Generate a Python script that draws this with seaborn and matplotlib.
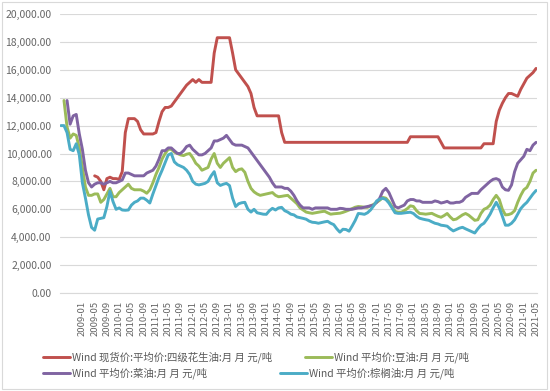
import numpy as np
import pandas as pd
import matplotlib
matplotlib.use("Agg")
import matplotlib.pyplot as plt
from matplotlib.lines import Line2D
from matplotlib.patches import Rectangle
import seaborn as sns

nan = np.nan

# monthly, 2008-06 .. 2021-05
months = pd.date_range("2008-06-01", "2021-05-01", freq="MS")

peanut = (
    [nan] * 7
    + [nan, nan, nan, nan, 8400, 8300, 8000, 7400, 8200, 8300, 8200, 8200]
    + [8150, 8700, 11500, 12500, 12500, 12500, 12300, 11700, 11400, 11400, 11400, 11400]
    + [11500, 12300, 13000, 13300, 13300, 13400, 13700, 14000, 14300, 14600, 14900, 15100]
    + [15300, 15100, 15300, 15100, 15100, 15100, 15100, 17200, 18300, 18300, 18300, 18300]
    + [18300, 17200, 16000, 15700, 15400, 15100, 14800, 14300, 13300, 12700, 12700, 12700]
    + [12700, 12700, 12700, 12700, 12700, 11500] + [10800] * 6
    + [10800] * 12
    + [10800] * 12
    + [10800] * 11 + [11200]
    + [11200] * 9 + [10800, 10400, 10400]
    + [10400] * 11 + [10700]
    + [10700, 10700, 10700, 12300, 13100, 13600, 14000, 14300, 14300, 14200, 14100, 14600]
    + [15000, 15400, 15600, 15800, 16100]
)

soy = (
    [nan, 13800, 11900, 11100, 11400, 11300, 10400]
    + [9000, 7600, 7000, 7000, 7100, 7100, 6500, 6700, 7100, 7500, 6900, 6900]
    + [7200, 7400, 7600, 7800, 7500, 7400, 7400, 7400, 7300, 7150, 7400, 7900]
    + [8500, 9000, 9600, 10000, 10300, 10300, 10100, 10000, 9900, 9850, 9950, 10000]
    + [9700, 9300, 9100, 8800, 8900, 9000, 9600, 10000, 9300, 9000, 9300, 9500]
    + [9700, 9000, 8700, 8850, 8900, 8650, 8000, 7500, 7250, 7100, 7000, 7050]
    + [7100, 7150, 7200, 7000, 6900, 6930, 6970, 7000, 6800, 6600, 6400, 6100]
    + [5950, 5800, 5750, 5710, 5750, 5790, 5830, 5860, 5750, 5650, 5680, 5700]
    + [5720, 5780, 5860, 5950, 6050, 6150, 6200, 6180, 6150, 6140, 6250, 6350]
    + [6500, 6650, 6850, 6800, 6550, 6200, 5850, 5790, 5790, 5900, 6050, 6250]
    + [6200, 5900, 5700, 5680, 5650, 5680, 5710, 5600, 5500, 5430, 5550, 5700]
    + [5450, 5250, 5300, 5450, 5600, 5700, 5580, 5400, 5210, 5250, 5700, 6000]
    + [6100, 6300, 6700, 7000, 6700, 6000, 5600, 5620, 5700, 5900, 6500, 7000]
    + [7400, 7570, 8000, 8600, 8800]
)

rapeseed = (
    [nan, nan, 13800, 12100, 12700, 12800, 11400]
    + [10300, 8800, 7900, 7600, 7800, 7900, 7900, 7800, 7900, 8000, 7900, 7900]
    + [8000, 8100, 8600, 8600, 8500, 8400, 8400, 8400, 8400, 8600, 8700, 8800]
    + [9100, 9600, 10200, 10200, 10400, 10400, 10200, 10000, 10000, 10200, 10500, 10600]
    + [10300, 10100, 9900, 9900, 10000, 10200, 10400, 10900, 10900, 11000, 11100, 11300]
    + [11000, 10700, 10600, 10600, 10600, 10500, 10400, 10100, 9800, 9500, 9200, 8900]
    + [8600, 8300, 7900, 7600, 7600, 7600, 7500, 7500, 7300, 7000, 6600, 6300]
    + [6100, 6100, 6100, 6000, 6100, 6100, 6100, 6100, 6100, 6000, 6000, 6000]
    + [6070, 6050, 6000, 6000, 6000, 6050, 6100, 6100, 6150, 6200, 6250, 6300]
    + [6500, 6800, 7300, 7500, 7200, 6700, 6200, 6100, 6200, 6300, 6600, 6700]
    + [6700, 6600, 6600, 6500, 6500, 6500, 6500, 6600, 6550, 6450, 6500, 6570]
    + [6450, 6450, 6500, 6500, 6600, 6860, 7000, 7140, 7140, 7140, 7400, 7600]
    + [7800, 8000, 8150, 8200, 8100, 7600, 7400, 7360, 7750, 8700, 9300, 9550]
    + [9800, 10300, 10200, 10600, 10800]
)

palm = (
    [12000, 12000, 11500, 10300, 10200, 10700, 9900]
    + [7900, 6800, 5600, 4700, 4500, 5300, 5350, 5400, 6200, 7300, 6550, 6000]
    + [6100, 5950, 5930, 5950, 6300, 6500, 6600, 6800, 6800, 6650, 6450, 7100]
    + [7700, 8300, 8800, 9360, 9900, 10000, 9400, 9200, 9100, 9000, 8800, 8500]
    + [8000, 7800, 7750, 7800, 7860, 8000, 8400, 8700, 7900, 7710, 7800, 7860]
    + [7700, 6800, 6200, 6400, 6470, 6500, 6000, 5800, 6000, 5750, 5700, 5650]
    + [5640, 5900, 6070, 5950, 6100, 6140, 5900, 5800, 5650, 5600, 5450, 5400]
    + [5350, 5290, 5150, 5070, 5050, 5000, 5050, 5100, 5140, 5000, 4900, 4600]
    + [4360, 4570, 4550, 4430, 4800, 5200, 5700, 5680, 5640, 5750, 5950, 6250]
    + [6600, 6720, 6790, 6700, 6450, 6100, 5750, 5710, 5710, 5740, 5770, 5790]
    + [5700, 5500, 5360, 5300, 5250, 5210, 5100, 5000, 4950, 4860, 4830, 4790]
    + [4600, 4450, 4550, 4650, 4710, 4600, 4500, 4400, 4300, 4600, 4860, 5000]
    + [5300, 5650, 6100, 6500, 6100, 5500, 4860, 4860, 5000, 5250, 5650, 6050]
    + [6300, 6500, 6800, 7100, 7350]
)

series_names = [
    "Wind 现货价:平均价:四级花生油:月 月 元/吨",
    "Wind 平均价:豆油:月 月 元/吨",
    "Wind 平均价:菜油:月 月 元/吨",
    "Wind 平均价:棕榈油:月 月 元/吨",
]
colors = ["#C0504D", "#9BBB59", "#8064A2", "#4BACC6"]
y_ticks = [0, 2000, 4000, 6000, 8000, 10000, 12000, 14000, 16000, 18000, 20000]

# ---- long table for seaborn ----
pos = np.arange(len(months)) - 7   # 2009-01 -> 0
frames = []
for name, vals in zip(series_names, [peanut, soy, rapeseed, palm]):
    frames.append(pd.DataFrame({"x": pos, "value": vals, "series": name}))
df = pd.concat(frames, ignore_index=True).dropna()

sns.set_theme(style="white")
plt.rcParams["font.family"] = ["Noto Sans CJK SC", "DejaVu Sans"]

fig = plt.figure(figsize=(5.5, 3.91), dpi=100)
ax = fig.add_axes([60 / 550, 1 - 293 / 391, 477 / 550, 279 / 391])

sns.lineplot(data=df, x="x", y="value", hue="series", hue_order=series_names,
             palette=colors, estimator=None, sort=False, linewidth=2.1,
             legend=False, ax=ax)

ax.set_xlim(pos[0] - 0.3, pos[-1] + 0.3)
ax.set_ylim(0, 20000)
ax.set_yticks(y_ticks)
ax.set_yticklabels([f"{v:,.2f}" for v in y_ticks])
ax.grid(axis="y", color="#D9D9D9", linewidth=0.8)
ax.set_axisbelow(True)

tick_idx = [i for i, d in enumerate(months) if d.year >= 2009 and d.month in (1, 5, 9)]
ax.set_xticks(pos[tick_idx])
ax.set_xticklabels([months[i].strftime("%Y-%m") for i in tick_idx], rotation=90)

ax.tick_params(axis="both", length=0, colors="#666666")
ax.tick_params(axis="y", labelsize=7.5, pad=6)
ax.tick_params(axis="x", labelsize=6.8, pad=6)
ax.set_xlabel("")
ax.set_ylabel("")
for side in ["top", "right", "left"]:
    ax.spines[side].set_visible(False)
ax.spines["bottom"].set_color("#D9D9D9")
ax.spines["bottom"].set_linewidth(0.8)

# legend: Excel-like flow layout, one entry each
anchors = [(43, 357), (305, 357), (43, 373), (280, 373)]
for name, col, (lx, ly) in zip(series_names, colors, anchors):
    h = Line2D([], [], color=col, linewidth=2.1)
    fig.legend([h], [name], loc="center left",
               bbox_to_anchor=(lx / 550, 1 - ly / 391),
               frameon=False, fontsize=7.5, handlelength=2.6,
               handletextpad=0.15, borderpad=0, borderaxespad=0,
               labelcolor="#595959")

# chart border
fig.patches.append(Rectangle((2 / 550, 2 / 391), 545 / 550, 387 / 391,
                             transform=fig.transFigure, fill=False,
                             edgecolor="#D9D9D9", linewidth=0.8))

fig.savefig("out.png", dpi=100)
